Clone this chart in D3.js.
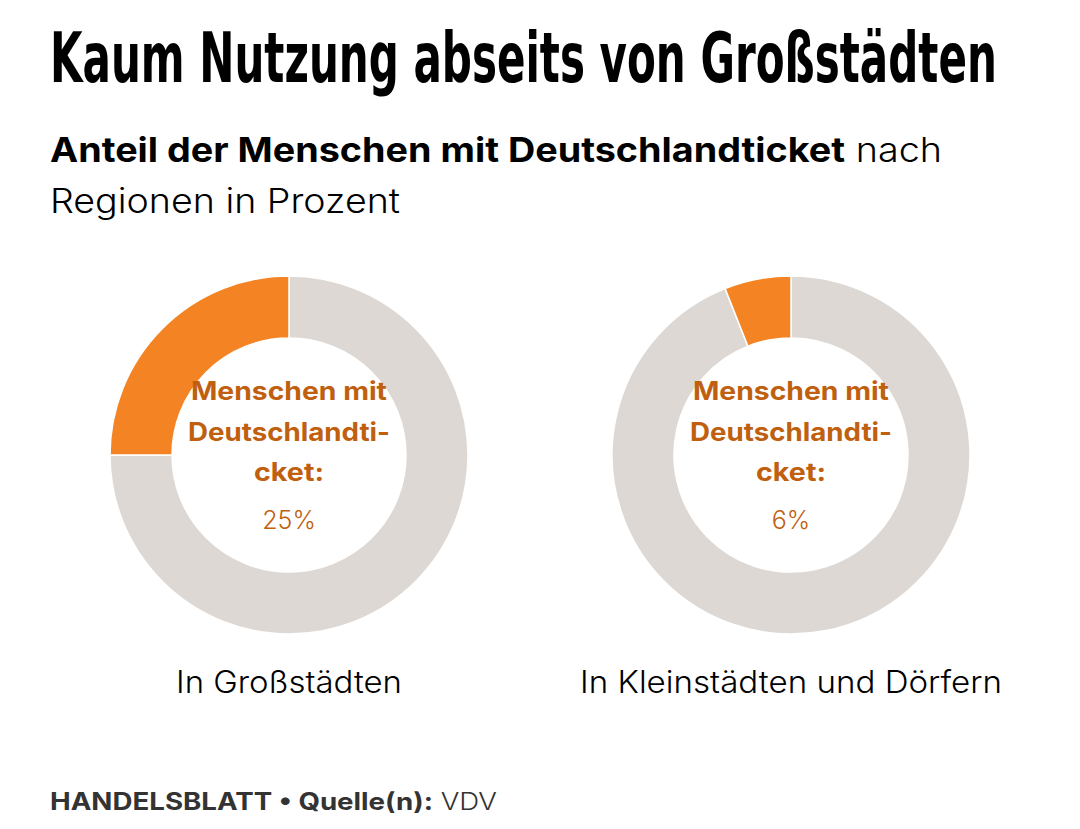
<!DOCTYPE html>
<html><head><meta charset="utf-8">
<script src="https://cdn.jsdelivr.net/npm/d3@7"></script>
<style>body{margin:0;background:#fff}svg{display:block}</style>
</head><body>
<script>
const regions = ["In Großstädten", "In Kleinstädten und Dörfern"];
const withTicket = [25, 6];
const categories = ["Ohne Deutschlandticket", "Menschen mit Deutschlandticket"];
const centerLines = ["Menschen mit", "Deutschlandti-", "cket:"];

const W = 1080, H = 829;
const svg = d3.select("body").append("svg").attr("width", W).attr("height", H);
const FONT = "Inter, 'Liberation Sans', sans-serif";

function fit(sel, w) {
  const n = sel.node().getComputedTextLength();
  if (Math.abs(n - w) > 2) sel.attr("textLength", w).attr("lengthAdjust", "spacingAndGlyphs");
  return sel;
}

// title: scale horizontally to target width
const tg = svg.append("g");
const title = tg.append("text").attr("x", 0).attr("y", 0)
  .attr("font-family", "'DejaVu Sans Condensed','Liberation Sans Narrow',sans-serif")
  .attr("font-weight", 700).attr("font-size", 70).attr("fill", "#000")
  .text("Kaum Nutzung abseits von Großstädten");
const tw = title.node().getComputedTextLength();
tg.attr("transform", `translate(50,82) scale(${947 / tw},1)`);

const sub = svg.append("text").attr("x", 50).attr("y", 162)
  .attr("font-family", FONT).attr("font-size", 34).attr("fill", "#000");
sub.append("tspan").attr("font-weight", 700).text("Anteil der Menschen mit Deutschlandticket");
sub.append("tspan").attr("font-weight", 300).text(" nach");
fit(sub, 892);
fit(svg.append("text").attr("x", 50).attr("y", 213)
  .attr("font-family", FONT).attr("font-size", 34).attr("font-weight", 300)
  .attr("fill", "#000").text("Regionen in Prozent"), 350);

const color = d3.scaleOrdinal().domain(categories).range(["#ddd8d3", "#f48423"]);
const x = d3.scalePoint().domain(regions).range([289, 791]);
const pie = d3.pie().sort(null).value(d => d.v);
const arc = d3.arc().innerRadius(117).outerRadius(179);
const cy = 455;
const centerW = [196, 202, 70];
const labelW = [226, 422];

regions.forEach((r, i) => {
  const data = [{k: categories[0], v: 100 - withTicket[i]}, {k: categories[1], v: withTicket[i]}];
  const g = svg.append("g").attr("transform", `translate(${x(r)},${cy})`);
  g.selectAll("path").data(pie(data)).join("path")
    .attr("d", arc).attr("fill", d => color(d.data.k))
    .attr("stroke", "#fff").attr("stroke-width", 1.5);
  centerLines.forEach((t, j) => {
    fit(g.append("text").attr("x", 0).attr("y", 400 - cy + j * 40.5)
      .attr("text-anchor", "middle").attr("font-family", FONT)
      .attr("font-weight", 700).attr("font-size", 25).attr("fill", "#c0600f").text(t), centerW[j]);
  });
  g.append("text").attr("x", 0).attr("y", 529 - cy)
    .attr("text-anchor", "middle").attr("font-family", FONT)
    .attr("font-weight", 300).attr("font-size", 25).attr("fill", "#c0600f").text(withTicket[i] + "%");
  fit(svg.append("text").attr("x", x(r)).attr("y", 693).attr("text-anchor", "middle")
    .attr("font-family", FONT).attr("font-weight", 300).attr("font-size", 31)
    .attr("fill", "#000").text(r), labelW[i]);
});

const foot = svg.append("text").attr("x", 50).attr("y", 810)
  .attr("font-family", FONT).attr("font-size", 24).attr("fill", "#333");
foot.append("tspan").attr("font-weight", 700).text("HANDELSBLATT • Quelle(n):");
foot.append("tspan").attr("font-weight", 300).text(" VDV");
fit(foot, 447);
</script>
</body></html>
